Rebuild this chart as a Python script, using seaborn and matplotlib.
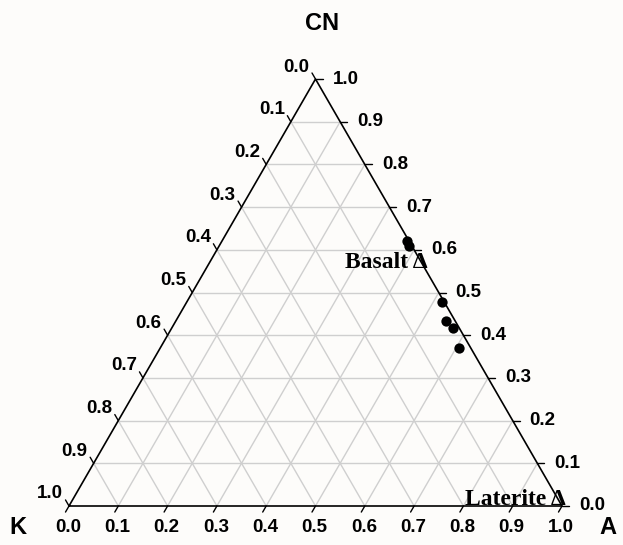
import matplotlib
matplotlib.use("Agg")
import matplotlib.pyplot as plt
import seaborn as sns
import numpy as np
import pandas as pd

# ternary data (fractions): CN at top, A bottom-right, K bottom-left
cn = [0.620, 0.610, 0.477, 0.434, 0.416, 0.369]
a = [0.375, 0.385, 0.518, 0.548, 0.571, 0.607]
k = [0.005, 0.005, 0.005, 0.018, 0.013, 0.024]
ticks = [0.0, 0.1, 0.2, 0.3, 0.4, 0.5, 0.6, 0.7, 0.8, 0.9, 1.0]
tick_labels = ["%.1f" % t for t in ticks]

H = np.sqrt(3) / 2


def to_xy(c, aa, kk):
    s = np.asarray(c) + np.asarray(aa) + np.asarray(kk)
    c = np.asarray(c) / s
    aa = np.asarray(aa) / s
    return aa + c / 2, c * H


sns.set_style("white")
plt.rcParams['font.family'] = ['Liberation Sans', 'DejaVu Sans']
plt.rcParams['text.color'] = 'black'

fig = plt.figure(figsize=(6.23, 5.45), dpi=100, facecolor='#fdfcfa')
ax = fig.add_axes([0, 0, 1, 1])
ax.set_facecolor('#fdfcfa')
px = 1 / 493.0
ax.set_xlim(-69 * px, (623 - 69) * px)
ax.set_ylim(-(545 - 506) * px, 506 * px)
ax.axis('off')

# grid
gc = '#cfcfcf'
for t in ticks[1:-1]:
    # CN = t (horizontal)
    x0, y0 = to_xy(t, 0, 1 - t)
    x1, y1 = to_xy(t, 1 - t, 0)
    ax.plot([x0, x1], [y0, y1], color=gc, lw=1, zorder=1)
    # A = t
    x0, y0 = to_xy(0, t, 1 - t)
    x1, y1 = to_xy(1 - t, t, 0)
    ax.plot([x0, x1], [y0, y1], color=gc, lw=1, zorder=1)
    # K = t
    x0, y0 = to_xy(0, 1 - t, t)
    x1, y1 = to_xy(1 - t, 0, t)
    ax.plot([x0, x1], [y0, y1], color=gc, lw=1, zorder=1)

# outline
ax.plot([0, 1, 0.5, 0], [0, 0, H, 0], color='black', lw=1.2, zorder=3)

L = 7 * px
fs = 13.5
for t, lab in zip(ticks, tick_labels):
    # bottom axis (A)
    x, y = to_xy(0, t, 1 - t)
    ax.plot([x, x - 0.5 * L], [y, y - H * L], color='black', lw=1, zorder=3)
    ax.text(x - 1 * px, y - 21 * px, lab, ha='center', va='center',
            fontsize=fs, fontweight='bold')
    # right axis (CN)
    x, y = to_xy(t, 1 - t, 0)
    ax.plot([x, x + L], [y, y], color='black', lw=1, zorder=3)
    ax.text(x + 17 * px, y, lab, ha='left', va='center',
            fontsize=fs, fontweight='bold')
    # left axis (K)
    x, y = to_xy(1 - t, 0, t)
    ax.plot([x, x - 0.5 * L], [y, y + H * L], color='black', lw=1, zorder=3)
    ax.text(x - 6 * px, y + 12 * px, lab, ha='right', va='center',
            fontsize=fs, fontweight='bold')

# points
xs, ys = to_xy(cn, a, k)
df = pd.DataFrame({'x': xs, 'y': ys})
sns.scatterplot(data=df, x='x', y='y', ax=ax, color='black', s=55,
                edgecolor='black', linewidth=0, zorder=5, legend=False)
ax.set_xlabel('')
ax.set_ylabel('')

# apex labels
ax.text(0.5 + 7 * px, 506 * px - 23 * px, 'CN', ha='center', va='center',
        fontsize=17, fontweight='bold')
ax.text(-51 * px, -21 * px, 'K', ha='center', va='center',
        fontsize=17, fontweight='bold')
ax.text(1 + 46 * px, -21 * px, 'A', ha='center', va='center',
        fontsize=17, fontweight='bold')

# annotations
serif = ['Liberation Serif', 'DejaVu Serif']
ax.text((428 - 69) * px, (506 - 262) * px, 'Basalt \u0394', ha='right',
        va='center', fontsize=17, fontweight='bold', family=serif)
ax.text((566 - 69) * px, 1 * px, 'Laterite \u0394', ha='right',
        va='baseline', fontsize=17, fontweight='bold', family=serif)

plt.savefig('out.png', dpi=100, facecolor=fig.get_facecolor())
